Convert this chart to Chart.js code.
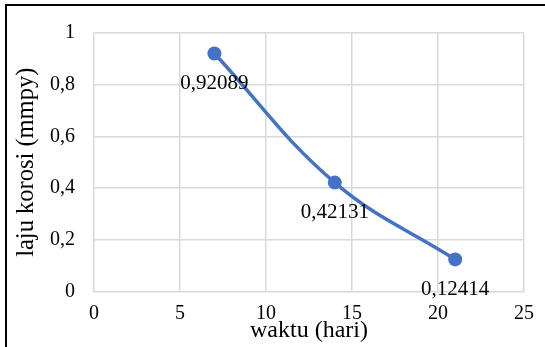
<!DOCTYPE html>
<html>
<head>
<meta charset="utf-8">
<script src="https://cdn.jsdelivr.net/npm/chart.js@4/dist/chart.umd.min.js"></script>
<style>
  html, body { margin: 0; padding: 0; background: #fff; }
  #wrap { position: relative; width: 545px; height: 347px; overflow: hidden; }
  #frame { position: absolute; left: 5px; top: 4px; width: 700px; height: 500px;
           border-left: 2.5px solid #000; border-top: 2.5px solid #000; pointer-events: none; }
  canvas { position: absolute; left: 0; top: 0; }
</style>
</head>
<body>
<div id="wrap">
  <canvas id="c" width="545" height="347"></canvas>
  <div id="frame"></div>
</div>
<script>
// Data
const days = [7, 14, 21];
const corrosionRate = [0.92089, 0.42131, 0.12414];
const xTitle = 'waktu (hari)';
const yTitle = 'laju korosi (mmpy)';

const fmt = v => String(Number(v.toFixed(5))).replace('.', ',');
const FONT = 'Liberation Serif, Times New Roman, serif';

const pointLabels = {
  id: 'pointLabels',
  afterDatasetsDraw(chart) {
    const ctx = chart.ctx;
    const meta = chart.getDatasetMeta(0);
    ctx.save();
    ctx.font = '21px ' + FONT;
    ctx.fillStyle = '#000';
    ctx.textAlign = 'center';
    ctx.textBaseline = 'middle';
    meta.data.forEach((pt, i) => {
      ctx.fillText(fmt(corrosionRate[i]), pt.x, pt.y + 30);
    });
    ctx.restore();
  }
};

new Chart(document.getElementById('c'), {
  type: 'scatter',
  data: {
    datasets: [{
      data: days.map((d, i) => ({ x: d, y: corrosionRate[i] })),
      showLine: true,
      tension: 0.4,
      borderColor: '#4472C4',
      backgroundColor: '#4472C4',
      borderWidth: 3.5,
      pointRadius: 7,
      pointBorderWidth: 0
    }]
  },
  options: {
    responsive: false,
    animation: false,
    devicePixelRatio: 1,
    layout: { padding: { left: 0, top: 33, right: 21, bottom: 0 } },
    plugins: { legend: { display: false }, tooltip: { enabled: false } },
    scales: {
      x: {
        type: 'linear',
        min: 0, max: 25,
        ticks: { stepSize: 5, color: '#000', font: { family: FONT, size: 20 }, padding: 10,
                 callback: v => fmt(v) },
        grid: { color: '#d9d9d9', lineWidth: 1.5, drawTicks: false },
        border: { display: false },
        title: { display: true, text: xTitle, color: '#000',
                 font: { family: FONT, size: 24 }, padding: { top: 0, bottom: 1.6 } },
        afterFit: s => { s.height = 347 - 291.5; }
      },
      y: {
        type: 'linear',
        min: 0, max: 1,
        ticks: { stepSize: 0.2, color: '#000', font: { family: FONT, size: 20 }, padding: 19,
                 callback: v => fmt(v) },
        grid: { color: '#d9d9d9', lineWidth: 1.5, drawTicks: false },
        border: { display: false },
        title: { display: true, text: yTitle, color: '#000',
                 font: { family: FONT, size: 24.5 }, padding: { top: 11.4, bottom: 0 } },
        afterFit: s => { s.width = 94; }
      }
    }
  },
  plugins: [pointLabels]
});
</script>
</body>
</html>
